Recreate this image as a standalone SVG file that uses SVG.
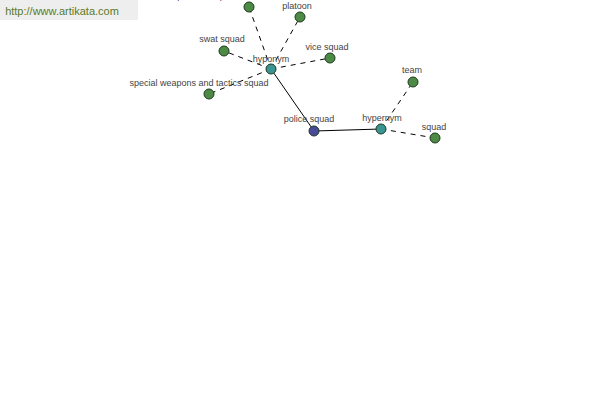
<svg xmlns="http://www.w3.org/2000/svg" width="600" height="400" viewBox="0 0 600 400">
<style>
text{font-family:"Liberation Sans",Arial,sans-serif;font-size:9px;fill:#444;text-anchor:middle}
.n{stroke:#1e3a1e;stroke-width:1}
.g{fill:#4c8a45}
.t{fill:#3a9494}
.b{fill:#4a4a9a}
.s{stroke:#000;stroke-width:1;fill:none}
.d{stroke:#000;stroke-width:1;fill:none;stroke-dasharray:5,5}
</style>
<rect x="0" y="0" width="138" height="20" fill="#eeeeee"/>
<text x="62" y="15" style="font-size:11px;fill:#5a7a2a">http://www.artikata.com</text>
<g id="connectors">
<line class="s" x1="271" y1="69" x2="314" y2="131"/>
<line class="s" x1="314" y1="131" x2="381" y2="129"/>
<line class="d" x1="271" y1="69" x2="249" y2="7"/>
<line class="d" x1="271" y1="69" x2="300" y2="17"/>
<line class="d" x1="271" y1="69" x2="224" y2="51"/>
<line class="d" x1="271" y1="69" x2="330" y2="58"/>
<line class="d" x1="271" y1="69" x2="209" y2="94"/>
<line class="d" x1="381" y1="129" x2="413" y2="82"/>
<line class="d" x1="381" y1="129" x2="435" y2="138"/>
</g>
<g id="n-police-squad"><circle class="n b" cx="314" cy="131" r="5"/><text x="309" y="122">police squad</text></g>
<g id="n-hyponym"><circle class="n t" cx="271" cy="69" r="5"/><text x="271" y="62">hyponym</text></g>
<g id="n-hypernym"><circle class="n t" cx="381" cy="129" r="5"/><text x="382" y="121">hypernym</text></g>
<g id="n-swat-team"><circle class="n g" cx="249" cy="7" r="5"/><text x="240" y="-1">special weapons and tactics team</text></g>
<g id="n-platoon"><circle class="n g" cx="300" cy="17" r="5"/><text x="297" y="9">platoon</text></g>
<g id="n-swat-squad"><circle class="n g" cx="224" cy="51" r="5"/><text x="222" y="42">swat squad</text></g>
<g id="n-vice-squad"><circle class="n g" cx="330" cy="58" r="5"/><text x="327" y="50">vice squad</text></g>
<g id="n-swat-long"><circle class="n g" cx="209" cy="94" r="5"/><text x="199" y="86">special weapons and tactics squad</text></g>
<g id="n-team"><circle class="n g" cx="413" cy="82" r="5"/><text x="412" y="73">team</text></g>
<g id="n-squad"><circle class="n g" cx="435" cy="138" r="5"/><text x="434" y="130">squad</text></g>
</svg>
